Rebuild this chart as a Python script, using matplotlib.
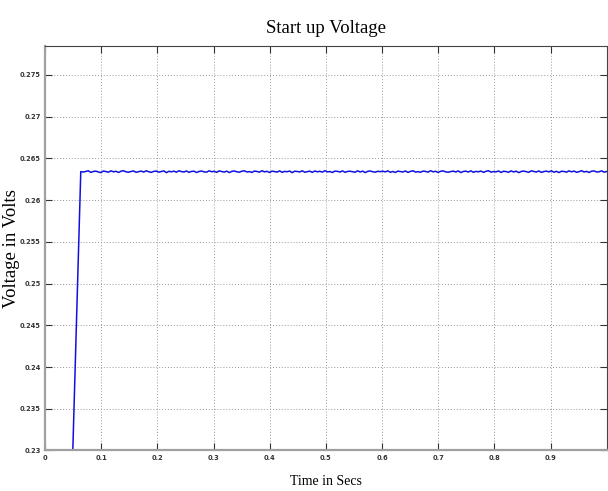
import numpy as np
import matplotlib
matplotlib.use("Agg")
from matplotlib import pyplot as plt

# ramp at switch-on (time in s, volts)
ramp_t = [0.0495, 0.0637]
ramp_v = [0.230, 0.2634]

# steady level and ripple (units of 1e-4 V)
level = 0.2634
ripple = [0.8, -0.5, 0.3, 1.0, -0.9, 0.2, 0.6, -0.4, -1.1, 0.7, 0.1, -0.6, 0.9, -0.2, 0.4,
          -1.0, 0.5, 1.1, -0.3, -0.7, 0.2, 0.8, -0.8, 0.0, 0.6, -0.5, 1.0, -0.1, -0.9, 0.3,
          0.7, -0.6, 0.1, 0.9, -1.2, 0.4, -0.2, 0.6, -0.7, 1.1, 0.0, -0.4, 0.8, -0.9, 0.3,
          0.5, -1.0, 0.2, 0.7, -0.3, -0.6, 1.0, -0.1, 0.4, -0.8, 0.9, 0.1, -0.5, 0.6, -1.1,
          0.3, 0.8, -0.2, -0.7, 0.5, 1.0, -0.4, 0.0, -0.9, 0.7, 0.2, -0.6, 1.1, -0.3, 0.4,
          -1.0, 0.6, 0.1, -0.5, 0.9, -0.8, 0.3, -0.1, 0.7, -1.2, 0.5, 0.2, -0.4, 1.0, -0.7,
          0.0, 0.6, -0.9, 0.8, -0.2, 0.4, -0.6, 1.1, -0.3, 0.1, -1.0, 0.7, 0.3, -0.5, 0.9,
          -0.8, 0.2, 0.5, -0.1, -0.7, 1.0, -0.4, 0.6, -1.1, 0.3, 0.8, -0.2, -0.6, 0.4, 0.0,
          0.5, -0.3, 0.9, -0.7, 0.2, -1.0, 0.6, 0.1, -0.4, 0.8, -0.9, 0.3, 1.0, -0.5, 0.0,
          -0.8, 0.7, 0.2, -0.6, 1.1, -0.2, 0.4, -1.0, 0.5, 0.9, -0.3, -0.7, 0.1, 0.6, -0.4,
          0.9, -1.1, 0.2, 0.6, -0.5, 1.0, -0.8, 0.3, -0.2, 0.7, -0.9, 0.4, 1.1, -0.6, 0.1,
          -0.3, 0.8, -1.0, 0.5, 0.0, -0.7, 0.9, -0.4, 0.6, -1.2, 0.2, 0.7, -0.1, -0.8, 1.0,
          0.3, -0.5, 0.8, -0.9, 0.1, 0.6, -0.3, 1.0, -0.7, 0.4, -1.1, 0.5, 0.2, -0.6, 0.9,
          -0.2, 0.7, -0.8, 0.0, 1.1, -0.4, 0.3, -1.0, 0.6, 0.8, -0.5, -0.1, 0.9, -0.7, 0.2]

xticks = [0, 0.1, 0.2, 0.3, 0.4, 0.5, 0.6, 0.7, 0.8, 0.9]
xlabels = ["0", "0.1", "0.2", "0.3", "0.4", "0.5", "0.6", "0.7", "0.8", "0.9"]
yticks = [0.23, 0.235, 0.24, 0.245, 0.25, 0.255, 0.26, 0.265, 0.27, 0.275]
ylabels = ["0.23", "0.235", "0.24", "0.245", "0.25", "0.255", "0.26", "0.265", "0.27", "0.275"]

t_flat = np.linspace(ramp_t[-1], 1.0, len(ripple))
v_flat = level + np.array(ripple) * 1e-4
t = np.concatenate([ramp_t, t_flat[1:]])
v = np.concatenate([ramp_v, v_flat[1:]])

fig = plt.figure(figsize=(6.08, 4.91), dpi=100)
ax = fig.add_axes([0.074, 0.0825, 0.924, 0.823])
ax.plot(t, v, color="#1010e0", lw=1.1)

ax.set_xlim(0, 1.0)
ax.set_ylim(0.23, 0.2784)
ax.set_xticks(xticks)
ax.set_xticklabels(xlabels)
ax.set_yticks(yticks)
ax.set_yticklabels(ylabels)
ax.tick_params(direction="in", length=5, width=0.8, labelsize=4.8, pad=3,
               top=True, right=True, colors="#333333")
for lab in ax.get_xticklabels() + ax.get_yticklabels():
    lab.set_family(["Liberation Sans Narrow", "DejaVu Sans"])
    lab.set_weight("bold")
ax.grid(True, ls=(0, (1, 2)), color="#999999", lw=0.7)

for s in ["left", "bottom"]:
    ax.spines[s].set_color("#a0a0a0")
    ax.spines[s].set_linewidth(1.6)
ax.spines["top"].set_color("#444444")
ax.spines["top"].set_linewidth(0.8)
ax.spines["right"].set_color("#444444")

ax.set_title("Start up Voltage", family="Liberation Serif", fontsize=13.5, pad=10)
ax.set_xlabel("Time in Secs", family="Liberation Serif", fontsize=10, labelpad=10)
ax.set_ylabel("Voltage in Volts", family="Liberation Serif", fontsize=13.5)
ax.yaxis.set_label_coords(-0.044, 0.5)

fig.savefig("out.png", dpi=100)
